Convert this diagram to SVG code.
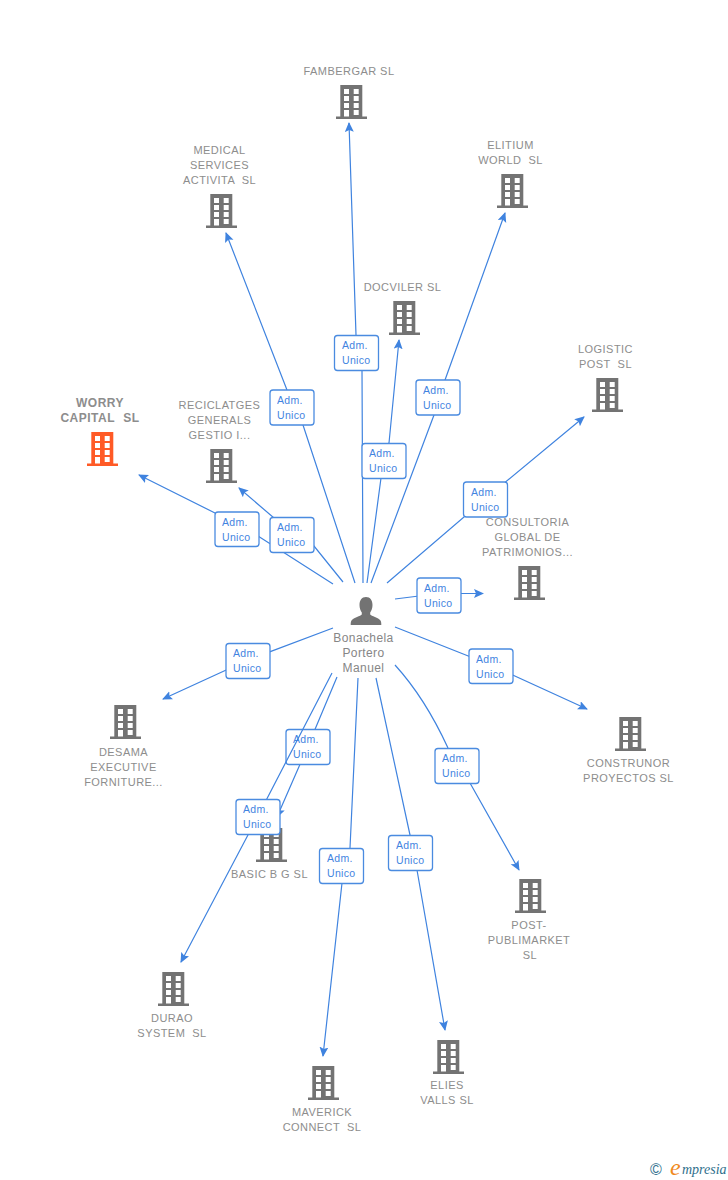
<svg xmlns="http://www.w3.org/2000/svg" width="728" height="1180" viewBox="0 0 728 1180">
<style>
text{font-family:"Liberation Sans",Arial,sans-serif}
.n{font-size:11px;fill:#8c8c8c;text-anchor:middle;letter-spacing:.45px;opacity:.99}
.w{font-size:12px;fill:#8c8c8c;font-weight:bold;text-anchor:middle;letter-spacing:.5px;word-spacing:-1px;opacity:.99}
.p{font-size:12px;fill:#858585;text-anchor:middle;letter-spacing:.4px;opacity:.99}
.l{fill:none;stroke:#3f83df;stroke-width:1.2;marker-end:url(#a)}
.b{fill:#fff;stroke:#4a8be0;stroke-width:1.3}
.t{font-size:10.5px;fill:#3f83df;letter-spacing:.3px;opacity:.99}
</style>
<defs>
<marker id="a" markerUnits="userSpaceOnUse" markerWidth="11" markerHeight="10" refX="9" refY="4.5" orient="auto"><path d="M0,0L10,4.5L0,9L2,4.5z" fill="#3f83df"/></marker>
<path id="bld" fill-rule="evenodd" d="M4.300 0H26.300V31.500H31V34H0V31.500H4.300ZM8 4V9H13V4ZM17.700 4V9H22.700V4ZM8 11V16H13V11ZM17.700 11V16H22.700V11ZM8 18V23H13V18ZM17.700 18V23H22.700V18ZM17.700 25V30H22.700V25ZM8 25V31.500H13V25Z"/>
</defs>
<rect width="728" height="1180" fill="#fff"/>
<g id="person"><path fill="#737373" d="M366 597c4.300 0 6.500 3.500 6.500 8 0 3-1 5.500-2.300 7.500v2c1 1.500 8.300 3 10.300 6 .8 1.300 .8 3 .8 4.500h-30.600c0-1.500 0-3.200 .8-4.500 2-3 9.300-4.500 10.300-6v-2c-1.300-2-2.300-4.500-2.300-7.500 0-4.500 2.200-8 6.500-8z"/><text class="p" x="363.500" y="642">Bonachela</text><text class="p" x="363.500" y="657">Portero</text><text class="p" x="363.500" y="672">Manuel</text></g>
<g id="fambergar"><use href="#bld" x="336" y="85" fill="#737373"/><text class="n" x="349" y="75">FAMBERGAR SL</text></g>
<g id="medical"><use href="#bld" x="206" y="194" fill="#737373"/><text class="n" x="219.500" y="154">MEDICAL</text><text class="n" x="219.500" y="169">SERVICES</text><text class="n" x="219.500" y="184" xml:space="preserve">ACTIVITA  SL</text></g>
<g id="elitium"><use href="#bld" x="497" y="174" fill="#737373"/><text class="n" x="510.500" y="149">ELITIUM</text><text class="n" x="510.500" y="164" xml:space="preserve">WORLD  SL</text></g>
<g id="docviler"><use href="#bld" x="389" y="301" fill="#737373"/><text class="n" x="402.500" y="291">DOCVILER SL</text></g>
<g id="logistic"><use href="#bld" x="592" y="378" fill="#737373"/><text class="n" x="605.500" y="353">LOGISTIC</text><text class="n" x="605.500" y="368" xml:space="preserve">POST  SL</text></g>
<g id="worry"><use href="#bld" x="87" y="432" fill="#ff5a26"/><text class="w" x="100" y="407">WORRY</text><text class="w" x="100" y="422" xml:space="preserve">CAPITAL   SL</text></g>
<g id="reciclatges"><use href="#bld" x="206" y="449" fill="#737373"/><text class="n" x="219.500" y="409">RECICLATGES</text><text class="n" x="219.500" y="424">GENERALS</text><text class="n" x="219.500" y="439">GESTIO I...</text></g>
<g id="consultoria"><use href="#bld" x="514" y="566" fill="#737373"/><text class="n" x="527.500" y="526">CONSULTORIA</text><text class="n" x="527.500" y="541">GLOBAL DE</text><text class="n" x="527.500" y="556">PATRIMONIOS...</text></g>
<g id="desama"><use href="#bld" x="110" y="705" fill="#737373"/><text class="n" x="123.500" y="756">DESAMA</text><text class="n" x="123.500" y="771">EXECUTIVE</text><text class="n" x="123.500" y="786">FORNITURE...</text></g>
<g id="construnor"><use href="#bld" x="615" y="717" fill="#737373"/><text class="n" x="628.500" y="767">CONSTRUNOR</text><text class="n" x="628.500" y="782">PROYECTOS SL</text></g>
<g id="basic"><use href="#bld" x="256" y="828" fill="#737373"/><text class="n" x="269.500" y="878">BASIC B G SL</text></g>
<g id="post"><use href="#bld" x="515" y="879" fill="#737373"/><text class="n" x="529" y="929">POST-</text><text class="n" x="529" y="944">PUBLIMARKET</text><text class="n" x="530" y="959">SL</text></g>
<g id="durao"><use href="#bld" x="158" y="972" fill="#737373"/><text class="n" x="172" y="1022">DURAO</text><text class="n" x="172" y="1037" xml:space="preserve">SYSTEM  SL</text></g>
<g id="maverick"><use href="#bld" x="308" y="1066" fill="#737373"/><text class="n" x="322" y="1116">MAVERICK</text><text class="n" x="322" y="1131" xml:space="preserve">CONNECT  SL</text></g>
<g id="elies"><use href="#bld" x="433" y="1040" fill="#737373"/><text class="n" x="447" y="1089">ELIES</text><text class="n" x="447" y="1104">VALLS SL</text></g>
<g id="connectors">
<polyline class="l" points="363,583 362,370 356,335 349,123"/>
<rect class="b" x="334.500" y="335.500" width="44" height="35" rx="3"/><text class="t" x="342" y="349">Adm.</text><text class="t" x="342" y="364">Unico</text>
<polyline class="l" points="355,583 303,425 287,390 226,233"/>
<rect class="b" x="270" y="390" width="44" height="35" rx="3"/><text class="t" x="277" y="404">Adm.</text><text class="t" x="277" y="419">Unico</text>
<polyline class="l" points="371,583 434,415 445,380 505,213"/>
<rect class="b" x="416" y="380" width="44" height="35" rx="3"/><text class="t" x="423" y="394">Adm.</text><text class="t" x="423" y="409">Unico</text>
<polyline class="l" points="367,583 381,478 389,443 399,340"/>
<rect class="b" x="362" y="443.500" width="44" height="35" rx="3"/><text class="t" x="369" y="457">Adm.</text><text class="t" x="369" y="472">Unico</text>
<polyline class="l" points="387,583 485,499 584,417"/>
<rect class="b" x="463.500" y="482" width="44" height="35" rx="3"/><text class="t" x="471" y="496">Adm.</text><text class="t" x="471" y="511">Unico</text>
<polyline class="l" points="395,599 439,593.500 483,593.500"/>
<rect class="b" x="417" y="578" width="44" height="35" rx="3"/><text class="t" x="424" y="592">Adm.</text><text class="t" x="424" y="607">Unico</text>
<polyline class="l" points="395,627 491,665 587,709"/>
<rect class="b" x="469" y="649" width="44" height="34.500" rx="3"/><text class="t" x="476" y="663">Adm.</text><text class="t" x="476" y="678">Unico</text>
<path class="l" d="M395,665Q425,698 448,748L470,783L519,870"/>
<rect class="b" x="435" y="748.500" width="44" height="35" rx="3"/><text class="t" x="442" y="762">Adm.</text><text class="t" x="442" y="777">Unico</text>
<polyline class="l" points="376,678 410,835 417,870 445,1030"/>
<rect class="b" x="388.500" y="835.500" width="44" height="35" rx="3"/><text class="t" x="396" y="849">Adm.</text><text class="t" x="396" y="864">Unico</text>
<polyline class="l" points="358,678 350,848 342,883 323,1056"/>
<rect class="b" x="319.500" y="848.500" width="44" height="35" rx="3"/><text class="t" x="327" y="862">Adm.</text><text class="t" x="327" y="877">Unico</text>
<polyline class="l" points="337,677 308,746 277,817"/>
<rect class="b" x="286" y="729.500" width="44" height="35" rx="3"/><text class="t" x="293" y="743">Adm.</text><text class="t" x="293" y="758">Unico</text>
<polyline class="l" points="332,673 258,816 181,962"/>
<rect class="b" x="236" y="799.500" width="44" height="35" rx="3"/><text class="t" x="243" y="813">Adm.</text><text class="t" x="243" y="828">Unico</text>
<polyline class="l" points="333,628 248,660 163,699"/>
<rect class="b" x="226" y="643.500" width="44" height="35" rx="3"/><text class="t" x="233" y="657">Adm.</text><text class="t" x="233" y="672">Unico</text>
<polyline class="l" points="333,584 258,536 215,513 139,475"/>
<rect class="b" x="215" y="512" width="44" height="34.500" rx="3"/><text class="t" x="222" y="526">Adm.</text><text class="t" x="222" y="541">Unico</text>
<polyline class="l" points="343,582 314,546 274,518 239,488"/>
<rect class="b" x="270" y="517.500" width="44" height="35" rx="3"/><text class="t" x="277" y="531">Adm.</text><text class="t" x="277" y="546">Unico</text>
</g>
<g id="logo"><text x="650" y="1175" font-size="16" fill="#2f6f8c">©</text><text x="670" y="1175" font-size="24" font-style="italic" fill="#f08a1d" style="font-family:'Liberation Serif',serif">e</text><text x="682" y="1174" font-size="14" font-style="italic" fill="#2f6f8c" style="font-family:'Liberation Serif',serif">mpresia</text></g>
</svg>
